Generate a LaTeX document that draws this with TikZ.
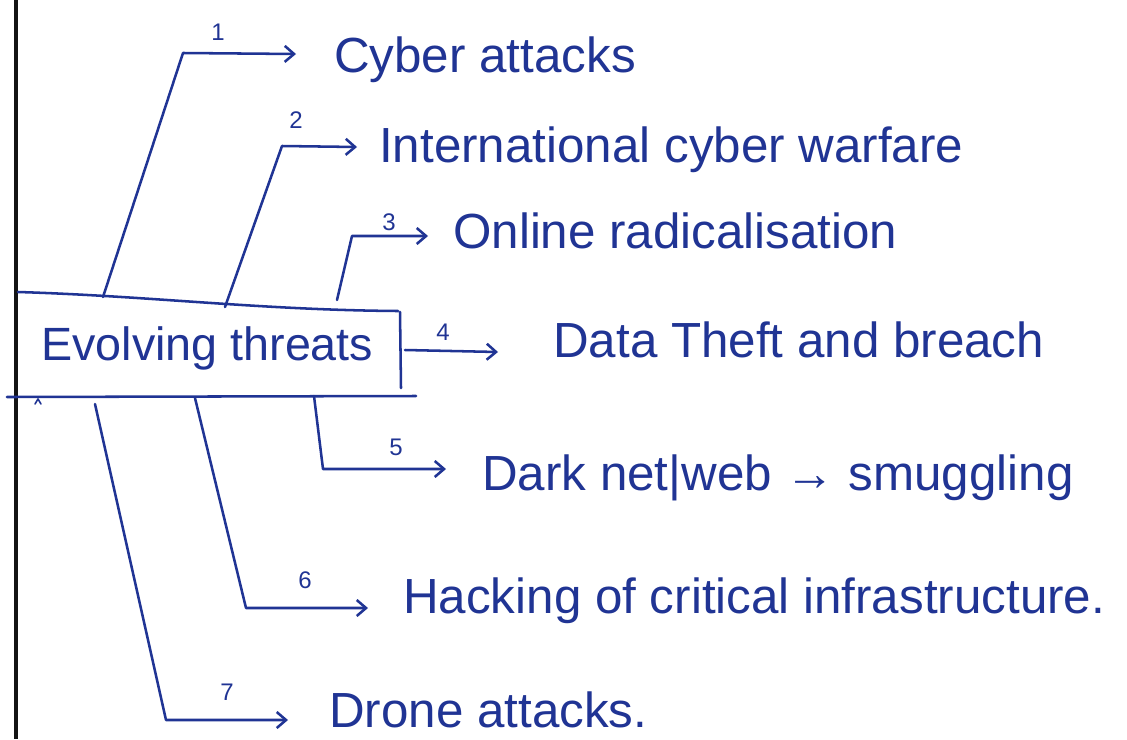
\documentclass[tikz,border=0pt]{standalone}
\usepackage{fontspec}
\setmainfont{Liberation Sans}
\usetikzlibrary{arrows.meta}
\definecolor{ink}{RGB}{32,52,148}
\definecolor{rule}{RGB}{20,20,20}
\begin{document}
\begin{tikzpicture}[x=0.75pt,y=-0.75pt,
  pen/.style={draw=ink,line width=1.9pt,line cap=round,line join=round},
  branch/.style={pen,-{Straight Barb[length=7pt,width=12pt,line width=1.9pt]}},
  item/.style={anchor=base west,inner sep=0pt,text=ink,font=\fontsize{37pt}{40pt}\selectfont},
  num/.style={inner sep=0pt,text=ink,font=\fontsize{18pt}{20pt}\selectfont}]
\useasboundingbox[fill=white] (0,0) rectangle (1127,739);

% margin rule of the page
\draw[rule,line width=3.6pt] (16,0) -- (16,739);

% the box round the central topic
\draw[pen] (18,292) .. controls (150,296) and (260,310) .. (398,311);
\draw[pen] (400,312) -- (401,388);
\draw[pen] (7,397) -- (416,396);
\draw[pen,line width=1.2pt] (35,404) -- (38,399) -- (41,404);

\node[item,font=\fontsize{35pt}{38pt}\selectfont] (root) at (41,360) {Evolving threats};

% end texts
\node[item] (t1) at (334,72)  {Cyber attacks};
\node[item] (t2) at (379,162) {International cyber warfare};
\node[item] (t3) at (453,248) {Online radicalisation};
\node[item] (t4) at (553,357) {Data Theft and breach};
\node[item] (t5) at (482,490) {Dark net|web → smuggling};
\node[item] (t6) at (403,613) {Hacking of critical infrastructure.};
\node[item] (t7) at (329,727) {Drone attacks.};

% start points on the box
\coordinate (s1) at (103,297);
\coordinate (s2) at (225,307);
\coordinate (s3) at (337,300);
\coordinate (s4) at (405,350);
\coordinate (s5) at (314,396);
\coordinate (s6) at (195,398);
\coordinate (s7) at (95,404);

% bends
\coordinate (c1) at (183,53);
\coordinate (c2) at (282,146);
\coordinate (c3) at (352,236);
\coordinate (c5) at (323,469);
\coordinate (c6) at (246,608);
\coordinate (c7) at (166,720);

% arrow tips
\coordinate (e1) at (296,54);
\coordinate (e2) at (357,147);
\coordinate (e3) at (428,236);
\coordinate (e4) at (498,352);
\coordinate (e5) at (446,469);
\coordinate (e6) at (368,608);
\coordinate (e7) at (288,720);

\draw[branch] (s1) -- (c1) -- (e1);
\draw[branch] (s2) -- (c2) -- (e2);
\draw[branch] (s3) -- (c3) -- (e3);
\draw[branch] (s4) -- (e4);
\draw[branch] (s5) -- (c5) -- (e5);
\draw[branch] (s6) -- (c6) -- (e6);
\draw[branch] (s7) -- (c7) -- (e7);

% numbers over the branches
\node[num] (n1) at (218,32)  {1};
\node[num] (n2) at (296,120) {2};
\node[num] (n3) at (389,222) {3};
\node[num] (n4) at (443,332) {4};
\node[num] (n5) at (396,447) {5};
\node[num] (n6) at (305,580) {6};
\node[num] (n7) at (227,692) {7};
\end{tikzpicture}
\end{document}
